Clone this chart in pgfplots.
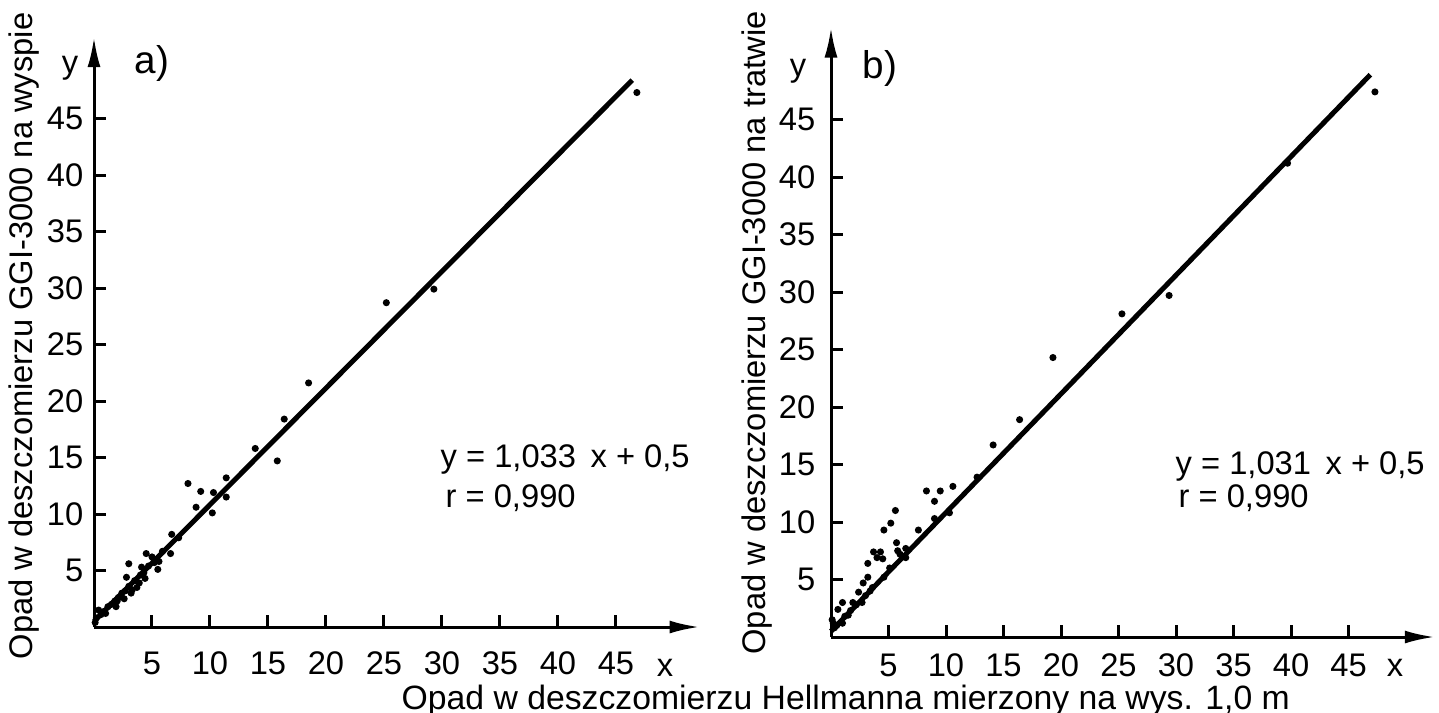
\documentclass[border=0pt]{standalone}
\usepackage{pgfplots}
\pgfplotsset{compat=1.18}
\usetikzlibrary{arrows.meta}
\usepackage{fontspec}
\setmainfont{Liberation Sans}
\newcommand\lf{\fontsize{9.3}{11}\selectfont}

\pgfplotsset{
  scan/.style={
    axis lines=left,
    axis line style={line width=0.3mm, -{Latex[length=3mm,width=1.3mm]}},
    xtick={5,10,...,45}, ytick={5,10,...,45},
    minor tick num=0,
    tick align=inside,
    major tick length=1.2mm,
    tick style={line width=0.3mm, black},
    ticklabel style={font=\lf},
    /pgf/number format/assume math mode=true,
    clip=false,
    anchor=south west,
  },
  pts/.style={only marks, mark=*, mark size=0.28mm, black},
  fit/.style={no marks, black, line width=0.5mm},
}

\begin{document}
\begin{tikzpicture}[every node/.style={inner sep=0pt}]
\useasboundingbox (0,0) rectangle (143.9mm,-71.2mm);

% a) island gauge
\begin{axis}[scan, x=1.16mm, y=1.13mm, xmin=0, xmax=52.2, ymin=0, ymax=52.2,
  at={(9.4mm,-62.7mm)}, xticklabel style={inner sep=0pt, yshift=-2.4mm},
  yticklabel style={inner sep=0pt, xshift=-1.0mm}]
\addplot[fit] coordinates {(0,0.5) (46.4,48.4)};
\addplot[pts] coordinates {
(46.8,47.3) (29.3,29.9) (25.2,28.7) (18.5,21.6) (16.4,18.4) (13.9,15.8)
(15.8,14.7) (8.1,12.7) (9.2,12.0) (10.3,11.9) (11.4,13.2) (11.4,11.5)
(8.8,10.6) (10.2,10.1) (6.7,8.2) (7.3,7.9) (6.6,6.5) (4.5,6.5)
(3.0,5.6) (2.8,4.4) (4.1,5.3) (5.0,6.2) (5.6,5.8) (5.5,5.1)
(3.7,3.5) (3.3,3.3) (0.4,1.5) (0.2,0.8)
(0.1,0.4) (0.6,1.1) (0.9,1.4) (1.0,1.2) (1.2,1.8) (1.5,2.0) (1.8,2.3)
(1.9,1.8) (2.0,2.3) (2.1,2.6) (2.4,3.0) (2.6,2.5) (2.7,3.2) (3.0,3.6)
(3.2,3.0) (3.5,4.1) (3.9,3.9) (4.0,4.6) (4.3,4.8) (4.4,4.3) (4.7,5.4)
(5.2,5.7) (5.9,6.7)
};
\end{axis}

% b) raft gauge
\begin{axis}[scan, x=1.15mm, y=1.15mm, xmin=0, xmax=52.5, ymin=0, ymax=53,
  at={(83.1mm,-63.7mm)}, xticklabel style={inner sep=0pt, yshift=-1.6mm},
  yticklabel style={inner sep=0pt, xshift=-1.5mm}]
\addplot[fit] coordinates {(0,0.5) (46.9,48.9)};
\addplot[pts] coordinates {
(47.3,47.4) (39.7,41.2) (29.4,29.7) (25.3,28.1) (19.3,24.3) (16.4,18.9)
(14.1,16.7) (12.7,13.9) (10.6,13.1) (9.5,12.7) (8.3,12.7) (9.0,11.8)
(10.3,10.8) (9.0,10.3) (7.6,9.3) (5.6,11.0) (5.2,9.9) (4.6,9.3)
(5.7,8.2) (6.5,7.7) (6.5,6.9) (3.7,7.4) (4.3,7.4) (4.0,6.9)
(4.5,6.8) (5.1,6.0) (4.6,5.2) (3.2,6.4) (3.2,5.2) (3.6,4.3)
(2.8,4.7) (2.4,3.9) (2.7,3.0) (1.9,3.0) (1.7,2.3) (1.0,3.0)
(0.6,2.4) (1.0,1.2) (0.1,1.5) (0.2,1.2) (6.0,7.2) (5.8,7.5)
(1.2,1.8) (1.5,1.9) (2.2,2.8) (3.0,3.6) (3.4,4.0) (0.5,1.0) (0.3,0.8)
};
\end{axis}

% labels
\node[rotate=90, font=\lf] at (2.4mm,-33.6mm) {Opad w deszczomierzu GGI-3000 na wyspie};
\node[rotate=90, font=\lf] at (75.7mm,-33.3mm) {Opad w deszczomierzu GGI-3000 na tratwie};
\node[anchor=base west, font=\fontsize{9.6}{11}\selectfont] at (40.1mm,-70.9mm) {Opad w deszczomierzu Hellmanna mierzony na wys. 1,0 m};

\node[anchor=base west, font=\fontsize{11}{13}\selectfont] at (13.4mm,-7.3mm) {a)};
\node[anchor=base west, font=\fontsize{11}{13}\selectfont] at (86.2mm,-7.8mm) {b)};
\node[anchor=base, font=\lf] at (7.0mm,-7.3mm) {y};
\node[anchor=base, font=\lf] at (79.8mm,-7.6mm) {y};
\node[anchor=base, font=\lf] at (66.5mm,-67.6mm) {x};
\node[anchor=base, font=\lf] at (139.5mm,-67.6mm) {x};

\node[anchor=base west, font=\lf] at (44.0mm,-46.7mm) {y = 1,033\, x + 0,5};
\node[anchor=base west, font=\lf] at (44.5mm,-50.7mm) {r = 0,990};
\node[anchor=base west, font=\lf] at (117.5mm,-47.4mm) {y = 1,031\, x + 0,5};
\node[anchor=base west, font=\lf] at (117.8mm,-50.7mm) {r = 0,990};
\end{tikzpicture}
\end{document}
